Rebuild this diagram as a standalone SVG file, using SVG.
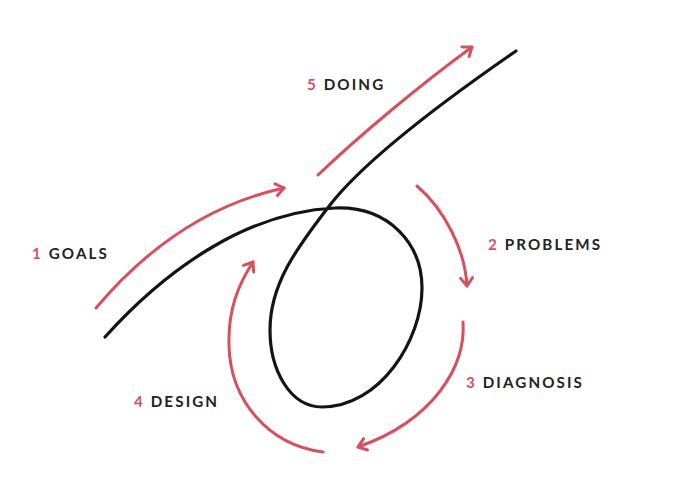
<svg xmlns="http://www.w3.org/2000/svg" width="678" height="494" viewBox="0 0 678 494">
<style>
.red{fill:none;stroke:#d6505d;stroke-width:3;stroke-linecap:round;stroke-linejoin:round}
.blk{fill:none;stroke:#141414;stroke-width:3.2;stroke-linecap:round}
.lbl{font-family:Lato,"Liberation Sans",sans-serif;font-weight:700;font-size:15.2px;letter-spacing:2.1px;fill:#222}
.num{fill:#d6505d}
</style>
<defs>
<marker id="ah" markerUnits="userSpaceOnUse" orient="auto" refX="0" refY="0" markerWidth="20" markerHeight="20" viewBox="-10 -10 20 20" overflow="visible">
<path d="M-8,-6 L0,0 L-8,6" fill="none" stroke="#d6505d" stroke-width="3" stroke-linecap="round" stroke-linejoin="round"/>
</marker>
</defs>
<rect width="678" height="494" fill="#fff"/>
<g id="connectors">
<path id="loop" class="blk" d="M105,337 C170,265 250,212 335,208 C390,206 422,245 422,288 C422,340 380,407 322,407 C290,407 270,370 270,330 C270,285 295,250 330,205 C365,160 445,100 516,51"/>
<path id="a1" class="red" marker-end="url(#ah)" d="M96,308 C145,250 205,205 284,188"/>
<path id="a2" class="red" marker-end="url(#ah)" d="M417,186 C445,210 465,250 467,286"/>
<path id="a3" class="red" marker-end="url(#ah)" d="M463,322 C466,365 435,420 358,447"/>
<path id="a4" class="red" marker-end="url(#ah)" d="M323,452 C268,445 230,400 229,345 C228,310 238,285 253,262"/>
<path id="a5" class="red" marker-end="url(#ah)" d="M318,175 C360,135 420,85 472,47"/>
</g>
<g id="goals"><text class="lbl" x="32" y="259"><tspan class="num">1</tspan> GOALS</text></g>
<g id="problems"><text class="lbl" x="488" y="250"><tspan class="num">2</tspan> PROBLEMS</text></g>
<g id="diagnosis"><text class="lbl" x="466" y="388"><tspan class="num">3</tspan> DIAGNOSIS</text></g>
<g id="design"><text class="lbl" x="134" y="407"><tspan class="num">4</tspan> DESIGN</text></g>
<g id="doing"><text class="lbl" x="307" y="90"><tspan class="num">5</tspan> DOING</text></g>
</svg>
